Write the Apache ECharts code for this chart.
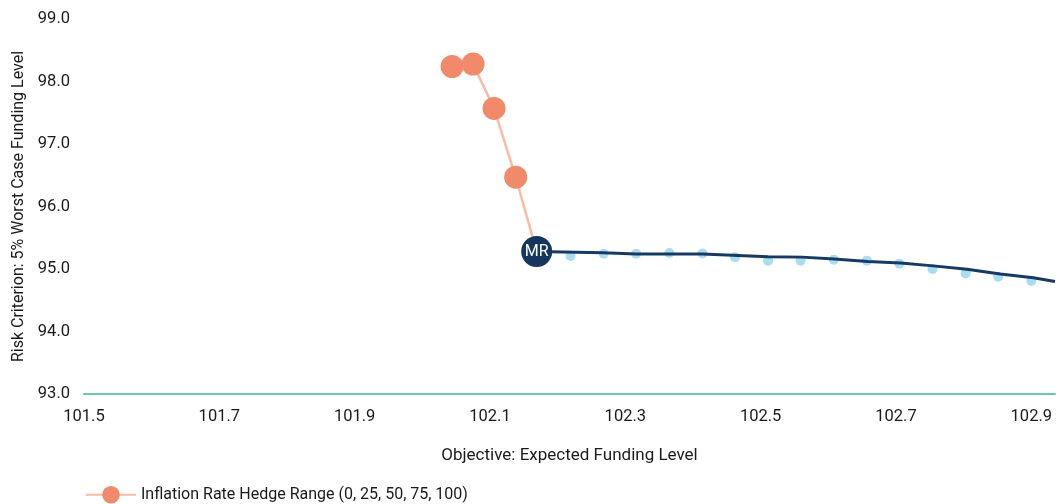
<!DOCTYPE html>
<html>
<head>
<meta charset="utf-8">
<script src="https://cdn.jsdelivr.net/npm/echarts@6/dist/echarts.min.js"></script>
<style>
html, body { margin: 0; padding: 0; background: #fff; }
#chart { width: 1058px; height: 504px; }
</style>
</head>
<body>
<div id="chart"></div>
<script>
// hedge range points: 0, 25, 50, 75, 100 (last one sits under MR)
var hedgeX = [102.044, 102.075, 102.106, 102.138, 102.169];
var hedgeY = [98.24, 98.28, 97.57, 96.47, 95.28];

// MR point
var mrX = [102.169];
var mrY = [95.28];

// light blue frontier dots
var dotX = [102.219, 102.268, 102.316, 102.365, 102.414, 102.462, 102.511, 102.559, 102.608, 102.657, 102.705, 102.754, 102.803, 102.851, 102.900];
var dotY = [95.21, 95.245, 95.245, 95.256, 95.25, 95.19, 95.134, 95.134, 95.15, 95.134, 95.085, 95.00, 94.93, 94.875, 94.81];

// dark frontier line
var lineX = [102.169, 102.267, 102.316, 102.414, 102.511, 102.561, 102.609, 102.658, 102.707, 102.755, 102.805, 102.854, 102.903, 102.935];
var lineY = [95.28, 95.26, 95.24, 95.24, 95.195, 95.19, 95.16, 95.12, 95.095, 95.05, 94.995, 94.92, 94.86, 94.80];

var hedgeName = 'Inflation Rate Hedge Range (0, 25, 50, 75, 100)';
var font = 'Roboto, "Liberation Sans", sans-serif';

function pairs(xs, ys) {
    var out = [];
    for (var i = 0; i < xs.length; i++) {
        out.push([xs[i], ys[i]]);
    }
    return out;
}

var myChart = echarts.init(document.getElementById('chart'));
var option = {
    animation: false,
    textStyle: { fontFamily: font },
    grid: { left: 84, right: 0, top: 19, bottom: 110 },
    legend: {
        data: [hedgeName],
        left: 80,
        top: 481,
        itemWidth: 50,
        itemHeight: 22,
        itemGap: 10,
        textStyle: { color: '#1a1a1a', fontSize: 16, fontFamily: font }
    },
    xAxis: {
        type: 'value',
        min: 101.5,
        max: 102.935,
        interval: 0.2,
        name: 'Objective: Expected Funding Level',
        nameLocation: 'middle',
        nameGap: 53,
        nameTextStyle: { color: '#1a1a1a', fontSize: 17, fontFamily: font },
        axisLine: { show: true, lineStyle: { color: '#6cc7b3', width: 2 } },
        axisTick: { show: false },
        splitLine: { show: false },
        axisLabel: {
            color: '#1a1a1a',
            fontSize: 16.5,
            margin: 14,
            fontFamily: font,
            formatter: function (v) {
                return v > 102.91 ? '' : v.toFixed(1);
            }
        }
    },
    yAxis: {
        type: 'value',
        min: 93,
        max: 99,
        interval: 1,
        name: 'Risk Criterion: 5% Worst Case Funding Level',
        nameLocation: 'middle',
        nameGap: 57,
        nameTextStyle: { color: '#1a1a1a', fontSize: 16, fontFamily: font },
        axisLine: { show: false },
        axisTick: { show: false },
        splitLine: { show: false },
        axisLabel: {
            color: '#1a1a1a',
            fontSize: 16.5,
            margin: 14,
            fontFamily: font,
            formatter: function (v) { return v.toFixed(1); }
        }
    },
    series: [
        {
            name: 'frontier',
            type: 'scatter',
            data: pairs(dotX, dotY),
            symbolSize: 10,
            itemStyle: { color: '#aadcf2', opacity: 1 },
            z: 2
        },
        {
            name: 'frontierLine',
            type: 'line',
            data: pairs(lineX, lineY),
            showSymbol: false,
            symbol: 'none',
            lineStyle: { color: '#173a63', width: 3 },
            z: 3
        },
        {
            name: hedgeName,
            type: 'line',
            data: pairs(hedgeX, hedgeY),
            symbol: 'circle',
            symbolSize: 23,
            itemStyle: { color: '#f08a6a' },
            lineStyle: { color: '#f8bba3', width: 2.5 },
            z: 4
        },
        {
            name: 'MR',
            type: 'scatter',
            data: pairs(mrX, mrY),
            symbolSize: 31,
            itemStyle: { color: '#15375f', opacity: 1 },
            label: {
                show: true,
                position: 'inside',
                formatter: 'MR',
                color: '#fff',
                fontSize: 16,
                fontFamily: font
            },
            z: 5
        }
    ]
};
myChart.setOption(option);
</script>
</body>
</html>
